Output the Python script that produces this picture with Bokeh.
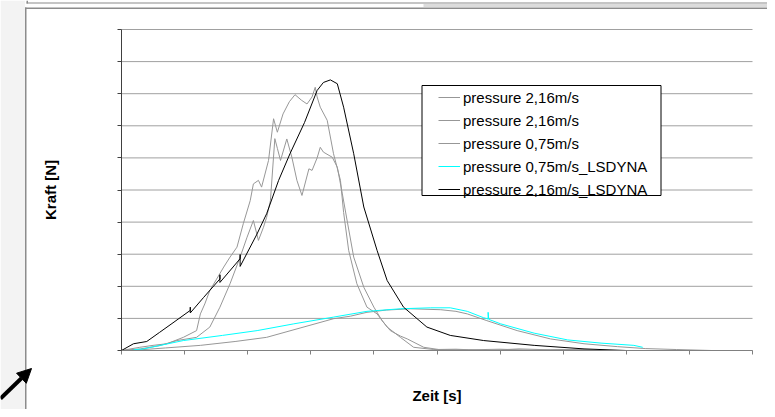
from bokeh.plotting import figure
from bokeh.models import (Range1d, FixedTicker, Legend, LegendItem, BoxAnnotation,
                          Arrow, NormalHead, LinearAxis)
from bokeh.embed import file_html
from bokeh.resources import INLINE

# ---- data (x in tick intervals, y in gridline intervals; axes carry no numbers) ----
x_ticks = list(range(11))
y_ticks = list(range(11))

x_p216a = [0, 0.29, 0.50, 0.72, 0.98, 1.19, 1.25, 1.32, 1.40, 1.50, 1.62, 1.72, 1.83, 1.93,
           2.04, 2.09, 2.17, 2.22, 2.33, 2.41, 2.47, 2.56, 2.66, 2.75, 2.85, 2.94, 3.02, 3.07,
           3.10, 3.15, 3.26, 3.36, 3.47, 3.52, 3.60, 3.73, 3.89, 4.05, 4.21, 4.42, 4.63, 4.95,
           5.3, 5.8, 6.3, 6.8, 7.3, 7.6]
y_p216a = [0, 0.10, 0.16, 0.21, 0.41, 0.62, 1.14, 1.45, 1.87, 2.20, 2.60, 2.91, 3.22, 3.95,
           4.67, 5.19, 5.30, 5.09, 5.92, 7.22, 6.80, 7.37, 7.75, 7.97, 7.80, 7.68, 7.90, 8.20,
           7.90, 7.58, 7.17, 6.13, 5.30, 4.30, 3.12, 2.08, 1.35, 1.14, 0.73, 0.41, 0.10, 0.03,
           0.04, 0.0, 0.05, 0.02, 0.03, 0.0]

x_p216b = [0, 0.30, 0.60, 0.88, 1.19, 1.40, 1.56, 1.72, 1.88, 1.99, 2.09, 2.17, 2.25, 2.30,
           2.36, 2.43, 2.47, 2.52, 2.62, 2.70, 2.78, 2.86, 2.97, 3.02, 3.10, 3.15, 3.20, 3.34,
           3.42, 3.50, 3.58, 3.68, 3.84, 4.00, 4.13, 4.26, 4.42, 4.53, 4.79, 5.03, 5.5, 6.0,
           6.5, 7.0, 7.5]
y_p216b = [0, 0.05, 0.15, 0.31, 0.41, 0.73, 1.35, 2.08, 2.91, 3.53, 4.05, 3.43, 3.84, 4.15,
           4.67, 6.60, 6.30, 5.92, 6.59, 6.02, 5.30, 4.83, 5.66, 5.61, 6.00, 6.33, 6.18, 6.02,
           5.71, 4.88, 4.00, 2.91, 1.97, 1.35, 0.93, 0.62, 0.45, 0.36, 0.10, 0.03, 0.02, 0.04,
           0.01, 0.03, 0.0]

x_p075 = [0, 0.29, 0.70, 1.25, 1.80, 2.30, 2.83, 3.36, 3.63, 3.89, 4.20, 4.58, 5.06, 5.30,
          5.48, 5.79, 6.27, 6.80, 7.33, 7.86, 8.30, 8.80, 9.35]
y_p075 = [0, 0.02, 0.08, 0.16, 0.28, 0.41, 0.70, 0.99, 1.07, 1.19, 1.26, 1.30, 1.27, 1.22,
          1.14, 0.93, 0.62, 0.36, 0.21, 0.12, 0.06, 0.03, 0.0]

x_p075_ls = [0.19, 0.35, 0.98, 1.60, 2.15, 2.73, 3.36, 3.89, 4.42, 4.90, 5.21, 5.48, 5.74,
             5.81, 5.81, 5.82, 6.01, 6.54, 7.07, 7.60, 8.12, 8.26]
y_p075_ls = [0.02, 0.05, 0.31, 0.47, 0.62, 0.83, 1.04, 1.22, 1.30, 1.33, 1.33, 1.22, 1.02,
             0.98, 1.19, 0.97, 0.83, 0.54, 0.33, 0.23, 0.16, 0.10]

x_p216_ls = [0, 0.19, 0.40, 0.60, 0.80, 1.09, 1.09, 1.09, 1.30, 1.56, 1.56, 1.56, 1.88,
             1.88, 1.88, 2.14, 2.30, 2.49, 2.67, 2.90, 3.10, 3.20, 3.31, 3.42, 3.52, 3.68,
             3.84, 4.05, 4.21, 4.47, 4.84, 5.21, 5.74, 6.54, 7.33, 8.00]
y_p216_ls = [0, 0.21, 0.28, 0.56, 0.84, 1.25, 1.35, 1.17, 1.65, 2.23, 2.36, 2.12, 2.86,
             2.99, 2.62, 3.60, 4.26, 5.30, 6.13, 7.10, 8.10, 8.35, 8.43, 8.31, 7.58, 6.13,
             4.47, 3.12, 2.18, 1.35, 0.73, 0.47, 0.31, 0.16, 0.05, 0.0]

labels = ["pressure 2,16m/s", "pressure 2,16m/s", "pressure 0,75m/s",
          "pressure 0,75m/s_LSDYNA", "pressure 2,16m/s_LSDYNA"]

FONT = "Liberation Sans"

# ---- layout geometry (pixels) ----
W, H = 767, 409
PL, PR, PT, PB = 121, 752, 29, 350          # plot-area edges on the canvas
ux = (PR - PL) / (x_ticks[-1] - x_ticks[0])
uy = (PB - PT) / (y_ticks[-1] - y_ticks[0])

p = figure(width=W, height=H, min_border=0,
           x_range=Range1d(x_ticks[0] - PL / ux, x_ticks[0] + (W - PL) / ux),
           y_range=Range1d(y_ticks[0] - (H - PB) / uy, y_ticks[0] + PB / uy),
           x_axis_location=None, y_axis_location=None,
           output_backend="svg", toolbar_location=None,
           background_fill_color="white", border_fill_color="white")
p.outline_line_color = None
p.grid.visible = False

def sbox(left, right, top, bottom, **kw):
    """box in canvas pixels (top-left origin)"""
    return BoxAnnotation(left=left, right=right, top=H - top, bottom=H - bottom,
                         left_units="screen", right_units="screen",
                         top_units="screen", bottom_units="screen", **kw)

# window frame decorations around the chart
p.add_layout(sbox(0, 24.5, 0, H, fill_color="#f3f3f3", fill_alpha=1, line_alpha=0))
p.add_layout(sbox(24.5, 26, 7, H, fill_color="#8c8c8c", fill_alpha=1, line_alpha=0))
p.add_layout(sbox(24.5, W, 7, 8.5, fill_color="#8c8c8c", fill_alpha=1, line_alpha=0))
p.add_layout(sbox(26, W, 2, 3, fill_color="#8c8c8c", fill_alpha=1, line_alpha=0))
p.add_layout(sbox(26, 27.5, 0, 3, fill_color="#8c8c8c", fill_alpha=1, line_alpha=0))
p.add_layout(sbox(423, W, 3.5, 6.5, fill_color="#dcdcdc", fill_alpha=1, line_alpha=0))
p.add_layout(Arrow(x_start=0, y_start=H - 398, x_end=31, y_end=H - 368,
                   start_units="screen", end_units="screen",
                   line_color="black", line_width=4,
                   end=NormalHead(size=14, fill_color="black", line_color="black")))

# horizontal gridlines over the plot area
n = len(y_ticks)
p.segment(x0=[x_ticks[0]] * n, x1=[x_ticks[-1]] * n, y0=y_ticks, y1=y_ticks,
          line_color="#a0a0a0", line_width=1)

# axes (no numbers, only tick marks)
xa = LinearAxis(fixed_location=y_ticks[0], bounds=(x_ticks[0], x_ticks[-1]),
                ticker=FixedTicker(ticks=x_ticks),
                major_label_overrides={float(t): "" for t in x_ticks},
                major_label_text_font_size="1px", major_label_standoff=0,
                major_tick_out=4, major_tick_in=0, minor_tick_out=0, minor_tick_in=0,
                axis_line_color="#808080", major_tick_line_color="#808080",
                axis_label="Zeit [s]", axis_label_text_font=FONT,
                axis_label_text_font_style="bold", axis_label_text_font_size="15px",
                axis_label_text_color="black", axis_label_standoff=32)
ya = LinearAxis(fixed_location=x_ticks[0], bounds=(y_ticks[0], y_ticks[-1]),
                ticker=FixedTicker(ticks=y_ticks),
                major_label_overrides={float(t): "" for t in y_ticks},
                major_label_text_font_size="1px", major_label_standoff=0,
                major_tick_out=4, major_tick_in=0, minor_tick_out=0, minor_tick_in=0,
                axis_line_color="#404040", major_tick_line_color="#404040",
                axis_label="Kraft [N]", axis_label_text_font=FONT,
                axis_label_text_font_style="bold", axis_label_text_font_size="15px",
                axis_label_text_color="black", axis_label_standoff=59)
p.add_layout(xa, "below")
p.add_layout(ya, "left")

# curves
gray = "#979797"
rA = p.line(x_p216a, y_p216a, line_color=gray, line_width=1)
rB = p.line(x_p216b, y_p216b, line_color=gray, line_width=1)
rC = p.line(x_p075, y_p075, line_color=gray, line_width=1)
rD = p.line(x_p075_ls, y_p075_ls, line_color="#00ffff", line_width=1)
rE = p.line(x_p216_ls, y_p216_ls, line_color="#000000", line_width=1)

# legend box + legend
p.add_layout(sbox(421.5, 660.5, 85, 195, fill_color="white", fill_alpha=1,
                  line_color="black", line_width=1, line_alpha=1))
legend = Legend(items=[LegendItem(label=l, renderers=[r])
                       for l, r in zip(labels, [rA, rB, rC, rD, rE])],
                location=(438, H - 199), padding=0, spacing=3, margin=0,
                glyph_width=22, glyph_height=20, label_height=20, label_standoff=3,
                label_text_font=FONT, label_text_font_size="15px",
                label_text_color="black",
                border_line_color=None, background_fill_alpha=0)
p.add_layout(legend)

open("out.html", "w").write(file_html(p, INLINE))
